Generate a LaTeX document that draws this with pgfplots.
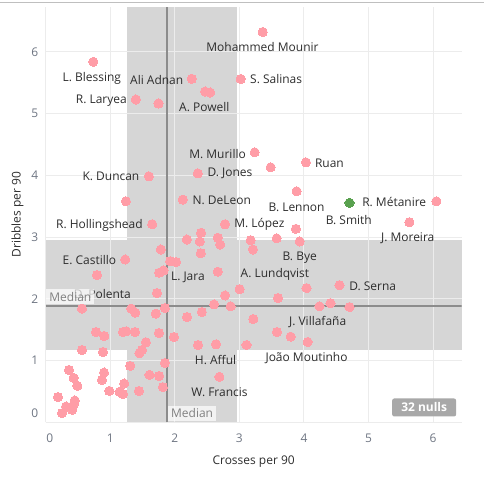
\documentclass[border=0pt]{standalone}
\usepackage{fontspec}
\setmainfont{Open Sans}
\usepackage{pgfplots}
\pgfplotsset{compat=1.18}
\definecolor{pinkpt}{RGB}{255,157,167}
\definecolor{greenpt}{RGB}{89,161,79}
\definecolor{band}{RGB}{214,214,214}
\definecolor{gridc}{RGB}{236,236,236}
\definecolor{medc}{RGB}{140,140,140}
\definecolor{medtxt}{RGB}{128,128,128}
\definecolor{tickc}{RGB}{110,117,130}
\definecolor{labc}{RGB}{45,45,45}
\definecolor{nullc}{RGB}{168,168,168}
\newcommand{\lf}{\fontsize{12bp}{14bp}\selectfont}
\begin{document}
\begin{tikzpicture}
\begin{axis}[
  set layers,
  at={(45.3bp,53.7bp)}, anchor=south west,
  scale only axis, width=416.7bp, height=416.3bp,
  xmin=0, xmax=6.44, ymin=0, ymax=6.725,
  axis line style={draw=none}, tick style={draw=none},
  xtick={0,1,2,3,4,5,6}, ytick={0,1,2,3,4,5,6},
  grid=major, major grid style={gridc, line width=1bp},
  /pgf/number format/assume math mode=true,
  tick label style={font=\lf, text=tickc},
  xticklabel style={anchor=center, yshift=-15.5bp},
  yticklabel style={anchor=center, xshift=-11bp},
  xticklabel={\ifnum\ticknum=0 \hspace*{8bp}\fi\pgfmathprintnumber{\tick}},
  yticklabel={\ifnum\ticknum=0 \raisebox{18bp}{\pgfmathprintnumber{\tick}}\else\pgfmathprintnumber{\tick}\fi},
  xlabel={Crosses per 90}, ylabel={Dribbles per 90},
  label style={font=\lf, text=labc},
  xlabel style={at={(axis description cs:0.5,-0.0954)}, anchor=center},
  ylabel style={at={(axis description cs:-0.068,0.5)}, anchor=center},
]
\begin{pgfonlayer}{axis background}
\fill[band] (axis cs:1.263,0) rectangle (axis cs:2.958,6.725);
\fill[band] (axis cs:0,1.17) rectangle (axis cs:6.44,2.96);
\end{pgfonlayer}
\draw[medc, line width=2bp] (axis cs:1.876,0) -- (axis cs:1.876,6.725);
\draw[medc, line width=2bp] (axis cs:0,1.884) -- (axis cs:6.44,1.884);

\addplot[only marks, mark=*, color=pinkpt, mark size=4.6bp, mark options={draw=pinkpt, fill=pinkpt, line width=0pt}] coordinates {
(0.737,5.837) (2.263,5.562) (3.02,5.56) (2.468,5.357) (2.545,5.341)
(1.397,5.228) (1.747,5.163) (3.36,6.32) (3.236,4.372) (3.484,4.13)
(4.03,4.21) (1.598,3.984) (2.355,4.032) (1.242,3.58) (2.123,3.607)
(3.886,3.742) (6.05,3.58) (5.632,3.241) (1.649,3.208) (2.777,3.208)
(3.875,3.134) (2.185,2.961) (2.406,3.07) (2.386,2.929) (2.665,2.989)
(2.70,2.88) (3.175,2.95) (3.577,2.98) (3.932,2.93) (3.21,2.80)
(1.784,2.80) (2.402,2.74) (1.232,2.638) (1.927,2.61) (2.02,2.595)
(0.794,2.385) (1.824,2.46) (1.757,2.423) (2.665,2.44) (3.004,2.158)
(4.04,2.175) (4.55,2.223) (1.722,2.094) (2.777,2.056) (3.597,2.013)
(2.607,1.911) (2.865,1.879) (4.24,1.879) (4.41,1.932) (4.705,1.868)
(1.845,1.851) (0.562,1.842) (1.325,1.842) (1.386,1.777) (1.706,1.761)
(2.417,1.787) (2.19,1.706) (3.215,1.674) (0.779,1.464) (0.907,1.40)
(1.196,1.464) (1.247,1.475) (1.382,1.464) (1.752,1.448) (1.985,1.383)
(1.552,1.297) (2.36,1.254) (2.638,1.265) (3.11,1.254) (3.58,1.464)
(3.793,1.389) (4.056,1.302) (1.49,1.173) (1.453,1.12) (0.562,1.173)
(0.887,1.141) (1.845,0.963) (1.309,0.915) (0.361,0.85) (0.433,0.721)
(0.49,0.592) (0.903,0.807) (0.871,0.689) (1.608,0.769) (1.757,0.753)
(1.814,0.571) (1.216,0.63) (0.985,0.51) (1.144,0.495) (1.196,0.462)
(1.443,0.51) (0.19,0.409) (0.449,0.355) (0.433,0.29) (0.315,0.258)
(0.408,0.204) (0.253,0.15) (2.69,0.737)
};
\addplot[only marks, mark=*, color=greenpt, mark size=4.6bp, mark options={draw=greenpt, fill=greenpt, line width=0pt}] coordinates {(4.705,3.554)};

\begin{scope}[every node/.style={font=\lf, text=labc, inner sep=0pt}]
\node at (axis cs:3.357,6.08) {Mohammed Mounir};
\node[anchor=east] at (axis cs:1.170,5.574) {L. Blessing};
\node[anchor=east] at (axis cs:2.133,5.546) {Ali Adnan};
\node[anchor=west] at (axis cs:3.164,5.56) {S. Salinas};
\node[anchor=east] at (axis cs:1.258,5.212) {R. Laryea};
\node at (axis cs:2.456,5.099) {A. Powell};
\node[anchor=east] at (axis cs:3.102,4.351) {M. Murillo};
\node[anchor=west] at (axis cs:4.168,4.20) {Ruan};
\node[anchor=east] at (axis cs:1.453,3.984) {K. Duncan};
\node[anchor=west] at (axis cs:2.504,4.03) {D. Jones};
\node[anchor=west] at (axis cs:2.272,3.596) {N. DeLeon};
\node at (axis cs:3.886,3.478) {B. Lennon};
\node[anchor=west] at (axis cs:4.90,3.570) {R. Métanire};
\node at (axis cs:4.694,3.284) {B. Smith};
\node[anchor=east] at (axis cs:1.505,3.192) {R. Hollingshead};
\node[anchor=west] at (axis cs:2.917,3.203) {M. López};
\node at (axis cs:5.606,2.977) {J. Moreira};
\node at (axis cs:3.934,2.67) {B. Bye};
\node[anchor=east] at (axis cs:1.093,2.622) {E. Castillo};
\node at (axis cs:3.55,2.396) {A. Lundqvist};
\node[anchor=west] at (axis cs:1.938,2.352) {L. Jara};
\node[anchor=west] at (axis cs:4.699,2.207) {D. Serna};
\node at (axis cs:0.876,2.084) {D. Polenta};
\node at (axis cs:4.212,1.625) {J. Villafaña};
\node at (axis cs:2.631,1.011) {H. Afful};
\node at (axis cs:4.04,1.044) {João Moutinho};
\node at (axis cs:2.692,0.483) {W. Francis};
\end{scope}

\node[fill=white, fill opacity=0.7, text opacity=1, text=medtxt, font=\lf, inner xsep=3bp, inner ysep=0pt, minimum height=15bp] at (axis cs:0.382,2.032) {Median};
\node[fill=white, fill opacity=0.7, text opacity=1, text=medtxt, font=\lf, inner xsep=3bp, inner ysep=0pt, minimum height=15bp] at (axis cs:2.267,0.152) {Median};
\node[fill=nullc, rounded corners=2bp, text=white, font=\lf\bfseries, minimum width=64bp, minimum height=18bp, inner sep=0pt] at (axis cs:5.861,0.242) {32 nulls};
\end{axis}
\path (0bp,0bp) rectangle (484bp,477bp);
\draw[gray!50, line width=1bp] (0bp,474.3bp) -- (484bp,474.3bp);
\end{tikzpicture}
\end{document}
